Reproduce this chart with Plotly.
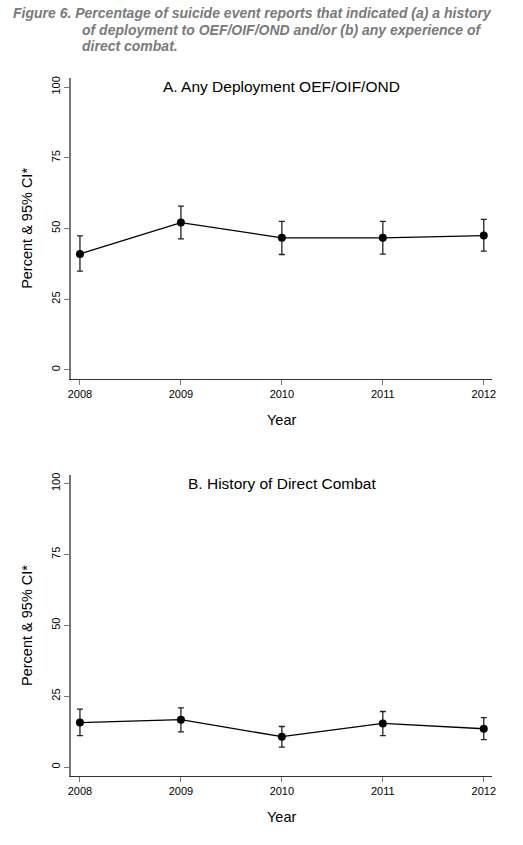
import plotly.graph_objects as go

years = [2008, 2009, 2010, 2011, 2012]
deploy_pct = [41.0, 52.1, 46.7, 46.7, 47.5]
deploy_lo = [34.9, 46.3, 40.8, 40.9, 42.0]
deploy_hi = [47.4, 57.9, 52.5, 52.5, 53.2]
combat_pct = [15.7, 16.7, 10.7, 15.4, 13.5]
combat_lo = [11.1, 12.4, 7.0, 11.1, 9.7]
combat_hi = [20.4, 20.9, 14.3, 19.6, 17.4]
y_ticks = [0, 25, 50, 75, 100]
panel_titles = ["A. Any Deployment OEF/OIF/OND", "B. History of Direct Combat"]
caption_lines = [
    "Figure 6. Percentage of suicide event reports that indicated (a) a history",
    "of deployment to OEF/OIF/OND and/or (b) any experience of",
    "direct combat.",
]

W, H = 523, 845
FONT = "Liberation Sans, Arial, sans-serif"

fig = go.Figure()

def add_series(pct, lo, hi, xa, ya):
    fig.add_trace(go.Scatter(
        x=years, y=pct, mode="lines+markers",
        line=dict(color="black", width=1.3),
        marker=dict(color="black", size=8),
        error_y=dict(type="data", symmetric=False,
                     array=[h - p for h, p in zip(hi, pct)],
                     arrayminus=[p - l for p, l in zip(pct, lo)],
                     color="#222", thickness=1.3, width=3),
        xaxis=xa, yaxis=ya, showlegend=False, cliponaxis=False,
    ))

add_series(deploy_pct, deploy_lo, deploy_hi, "x", "y")
add_series(combat_pct, combat_lo, combat_hi, "x2", "y2")

xdom = [69 / W, 496 / W]
domA = [1 - 377 / H, 1 - 75 / H]
domB = [1 - 775.3 / H, 1 - 474 / H]

xaxis_common = dict(
    range=[2007.912, 2012.085], tickvals=years, ticktext=[str(y) for y in years],
    showline=True, linecolor="#333", linewidth=1.2, ticks="outside", ticklen=5,
    tickcolor="#777", tickwidth=1.2, showgrid=False, zeroline=False,
    tickfont=dict(family=FONT, size=11, color="black"),
)
yaxis_common = dict(
    tickvals=y_ticks, showline=True, linecolor="#777", linewidth=2,
    ticks="outside", ticklen=5, tickcolor="#777", tickwidth=1.2,
    showgrid=False, zeroline=False, tickangle=-90,
    tickfont=dict(family=FONT, size=11, color="black"),
)

fig.update_layout(
    width=W, height=H,
    margin=dict(l=0, r=0, t=0, b=0),
    paper_bgcolor="white", plot_bgcolor="white",
    xaxis=dict(domain=xdom, anchor="y", **xaxis_common),
    yaxis=dict(domain=domA, anchor="x", range=[-3.1, 103.3], **yaxis_common),
    xaxis2=dict(domain=xdom, anchor="y2", **xaxis_common),
    yaxis2=dict(domain=domB, anchor="x2", range=[-3.0, 102.9], **yaxis_common),
)

ann = []
# panel titles
for title, yc in zip(panel_titles, [84, 482]):
    ann.append(dict(text=title, x=(69 + 496) / 2 / W, y=1 - yc / H, xref="paper", yref="paper",
                    xanchor="center", yanchor="middle", showarrow=False,
                    font=dict(family=FONT, size=15.5, color="black")))
# x axis titles
for yc in [418, 817]:
    ann.append(dict(text="Year", x=(69 + 496) / 2 / W, y=1 - yc / H, xref="paper", yref="paper",
                    xanchor="center", yanchor="middle", showarrow=False,
                    font=dict(family=FONT, size=14.5, color="black")))
# y axis titles
for yc in [(75 + 377) / 2, (474 + 775) / 2]:
    ann.append(dict(text="Percent & 95% CI*", x=25 / W, y=1 - yc / H, xref="paper", yref="paper",
                    xanchor="center", yanchor="middle", textangle=-90, showarrow=False,
                    font=dict(family=FONT, size=14.5, color="black")))
# caption
for line, (xl, yc) in zip(caption_lines, [(8, 10), (78, 27), (78, 43)]):
    ann.append(dict(text="<b><i>" + line + "</i></b>", x=xl / W, y=1 - yc / H, xref="paper", yref="paper",
                    xanchor="left", yanchor="middle", showarrow=False,
                    font=dict(family=FONT, size=14, color="#7a7a7a")))
fig.update_layout(annotations=ann)

fig.write_html("out.html", config={"displayModeBar": False},
               post_script="document.body.style.margin='0';document.body.style.overflow='hidden';")
